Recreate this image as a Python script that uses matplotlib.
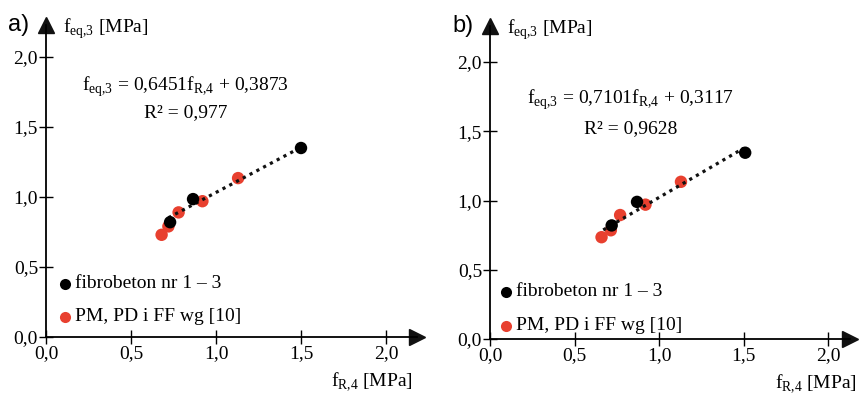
import numpy as np
import matplotlib.pyplot as plt

plt.rcParams['font.family'] = ['Liberation Serif', 'DejaVu Serif']
plt.rcParams['mathtext.fontset'] = 'custom'
plt.rcParams['mathtext.rm'] = 'Liberation Serif'

# data: (f_R,4 ; f_eq,3) in MPa
black_a_x = [0.73, 0.865, 1.50]
black_a_y = [0.82, 0.985, 1.35]
red_a_x = [0.68, 0.72, 0.78, 0.92, 1.13]
red_a_y = [0.73, 0.79, 0.89, 0.97, 1.135]

black_b_x = [0.72, 0.87, 1.51]
black_b_y = [0.82, 0.99, 1.345]
red_b_x = [0.66, 0.715, 0.77, 0.92, 1.13]
red_b_y = [0.735, 0.785, 0.895, 0.97, 1.135]

# regression lines (slope, intercept, R2, x-range)
fit_a = (0.6451, 0.3873, '0,977', [0.72, 1.50])
fit_b = (0.7101, 0.3117, '0,9628', [0.67, 1.50])

ticks = [0.0, 0.5, 1.0, 1.5, 2.0]
tick_labels = ['0,0', '0,5', '1,0', '1,5', '2,0']

RED = '#e8402f'
W, H = 859, 396
FS = 14


def panel(rect, letter, bx, by, rx, ry, fit, xmax, ymax, leg_x, leg_y, eq_pos, xlab_x):
    fig = plt.gcf()
    ax = fig.add_axes(rect)
    ax.set_xlim(0, xmax)
    ax.set_ylim(0, ymax)
    for s in ['top', 'right']:
        ax.spines[s].set_visible(False)
    for s in ['left', 'bottom']:
        ax.spines[s].set_linewidth(1.3)
    ax.set_xticks(ticks)
    ax.set_xticklabels(tick_labels)
    ax.set_yticks(ticks)
    ax.set_yticklabels(tick_labels)
    ax.tick_params(direction='inout', length=9.5, width=1.0, pad=1, labelsize=FS)
    # arrow heads
    ax.plot([xmax], [0], marker='>', ms=11, color='#111111', clip_on=False)
    ax.plot([0], [ymax], marker='^', ms=11, color='#111111', clip_on=False)

    k, b, r2, xr = fit
    xl = np.array(xr)
    ax.plot(xl, k * xl + b, color='#111111', lw=2.3, ls=(0, (1, 1.4)), zorder=3)
    ax.scatter(rx, ry, s=80, color=RED, edgecolors='none', zorder=2)
    ax.scatter(bx, by, s=80, color='black', edgecolors='none', zorder=4)

    ex, ey1, ey2 = eq_pos
    ax.text(ex, ey1, r'f$_{\mathregular{eq{,}3}}$ = ' + f'{k:.4f}'.replace('.', ',')
            + r'f$_{\mathregular{R{,}4}}$ + ' + f'{b:.4f}'.replace('.', ','),
            ha='center', va='center', fontsize=FS)
    ax.text(ex, ey2, 'R² = ' + r2, ha='center', va='center', fontsize=FS)

    # legend
    ax.plot([leg_x], [leg_y[0]], 'o', ms=8, color='black', mec='none', clip_on=False)
    ax.plot([leg_x], [leg_y[1]], 'o', ms=8, color=RED, mec='none', clip_on=False)
    ax.text(leg_x + 0.06, leg_y[0], 'fibrobeton nr 1 – 3', va='center', fontsize=FS)
    ax.text(leg_x + 0.06, leg_y[1], 'PM, PD i FF wg [10]', va='center', fontsize=FS)

    ax.text(0.1, ymax - 0.03, r'f$_{\mathregular{eq{,}3}}$ [MPa]', va='center', fontsize=FS)
    ax.text(xlab_x, -0.32, r'f$_{\mathregular{R{,}4}}$ [MPa]', ha='right', va='center',
            fontsize=FS)
    ax.text(-0.225, ymax, letter, va='center', fontsize=17, family='Liberation Sans')
    return ax


fig = plt.figure(figsize=(W / 100, H / 100), dpi=100)

# panel a: origin at (46, 337) px, 170 px / unit in x, 140 px / unit in y
xa, ya = 2.18, 2.23
panel([46 / W, (H - 337) / H, xa * 170 / W, ya * 140 / H], 'a)',
      black_a_x, black_a_y, red_a_x, red_a_y, fit_a, xa, ya,
      0.11, [0.38, 0.145], (0.82, 1.79, 1.60), 2.16)

# panel b: origin at (490, 339) px, 169 px / unit in x, 138.5 px / unit in y
xb, yb = 2.13, 2.26
panel([490 / W, (H - 339) / H, xb * 169 / W, yb * 138.5 / H], 'b)',
      black_b_x, black_b_y, red_b_x, red_b_y, fit_b, xb, yb,
      0.095, [0.34, 0.095], (0.83, 1.73, 1.52), 2.17)

fig.savefig('out.png', dpi=100)
